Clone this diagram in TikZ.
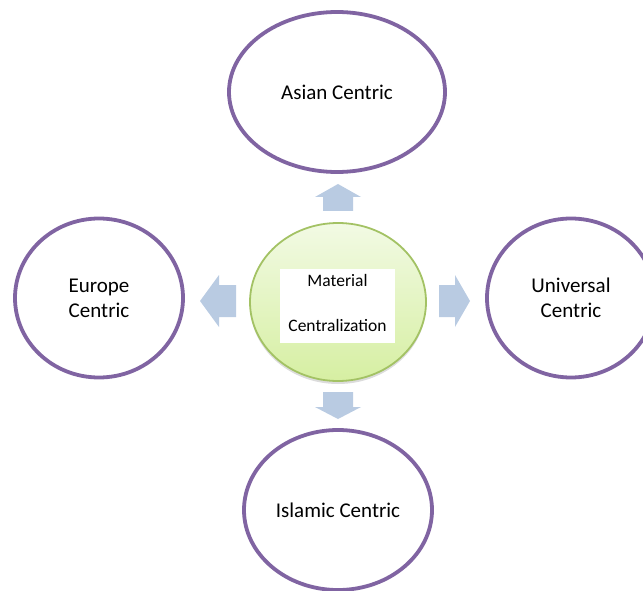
\documentclass[tikz,border=0pt]{standalone}
\usepackage{fontspec}
\setmainfont{Carlito}
\usetikzlibrary{shapes.geometric,shadows}
\definecolor{ringpurple}{HTML}{8064A2}
\definecolor{arrowblue}{HTML}{B9CBE2}
\definecolor{greenedge}{HTML}{A3C264}
\definecolor{greentop}{HTML}{F2FAE4}
\definecolor{greenbot}{HTML}{D6EFA2}
\tikzset{
  ring/.style={ellipse, draw=ringpurple, line width=3.8pt, fill=white, inner sep=0pt, align=center, font=\fontsize{21}{25}\selectfont},
  hub/.style={ellipse, draw=greenedge, line width=1.8pt, top color=greentop, bottom color=greenbot, inner sep=0pt,
    drop shadow={opacity=0.28, shadow xshift=0pt, shadow yshift=-3pt}},
  labelbox/.style={fill=white, inner sep=0pt},
  labeltext/.style={inner sep=0pt, align=center, font=\fontsize{17.5}{20}\selectfont},
  blockarrow/.style={fill=arrowblue, draw=none}
}
\begin{document}
\begin{tikzpicture}[x=1pt,y=-1pt]
\useasboundingbox (0,0) rectangle (643,591);
\clip (0,0) rectangle (643,591);
% hub
\node[hub, minimum width=176pt, minimum height=158pt] (hub) at (338,302) {};
\node[labelbox, minimum width=115pt, minimum height=74pt] (lbl) at (337.5,306) {};
\node[labeltext] (lbltext) at (337.5,302.5) {Material\\[25pt]Centralization};
% rings
\node[ring, minimum width=216pt, minimum height=160pt] (asian) at (337,92) {Asian Centric};
\node[ring, minimum width=168pt, minimum height=159pt] (europe) at (99,298) {Europe\\Centric};
\node[ring, minimum width=168pt, minimum height=159pt] (universal) at (571,298) {Universal\\Centric};
\node[ring, minimum width=188pt, minimum height=160pt] (islamic) at (338,510) {Islamic Centric};
% block arrows
\fill[blockarrow] (338,184) -- (361,197) -- (353,197) -- (353,211) -- (323,211) -- (323,197) -- (315,197) -- cycle;
\fill[blockarrow] (338,419) -- (361,407) -- (353,407) -- (353,392) -- (323,392) -- (323,407) -- (315,407) -- cycle;
\fill[blockarrow] (200,301) -- (219,275) -- (219,285) -- (236,285) -- (236,317) -- (219,317) -- (219,327) -- cycle;
\fill[blockarrow] (470,301) -- (455,275) -- (455,285) -- (439,285) -- (439,317) -- (455,317) -- (455,327) -- cycle;
\end{tikzpicture}
\end{document}
